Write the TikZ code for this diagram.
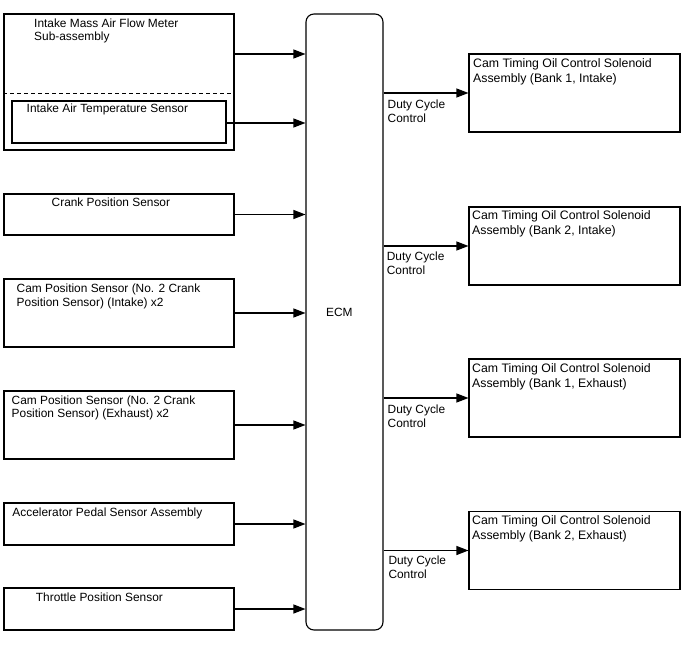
\documentclass[tikz,border=0pt]{standalone}
\usepackage{fontspec}
\setmainfont{Liberation Sans}
\usetikzlibrary{arrows.meta}
\begin{document}
\begin{tikzpicture}[x=1pt,y=-1pt,
  box/.style={draw, line width=1.1pt, inner sep=0pt, minimum width=#1},
  box/.default=230,
  rbox/.style={draw, line width=1.1pt, inner sep=0pt, minimum width=211, minimum height=78},
  txt/.style={anchor=base west, inner sep=0pt, align=left, font=\fontsize{11.9}{13.6}\selectfont},
  rtxt/.style={anchor=base west, inner sep=0pt, align=left, font=\fontsize{12.3}{15}\selectfont},
  arr/.style={line width=1.1pt, -{Triangle[length=12pt,width=9pt]}}]
\useasboundingbox (0,0) rectangle (688,658);
% ECM
\node[draw, line width=1.1pt, rounded corners=8pt, minimum width=77, minimum height=616, inner sep=0pt] (ecm) at (344.5,322) {};
\node[txt] (ecmt) at (326,316) {ECM};
% left boxes
\node[box, minimum height=136] (maf) at (119,82) {};
\draw[line width=1pt, dashed, dash pattern=on 4pt off 3pt] (maf.west |- 0,94) coordinate (dl) -- (maf.east |- 0,94) coordinate (dr);
\node[box=214, minimum height=42] (iat) at (119,122) {};
\node[txt] (maft) at (34,41) {Intake Mass Air Flow Meter\\Sub-assembly};
\node[txt] (iatt) at (26.5,112.7) {Intake Air Temperature Sensor};
\node[box, minimum height=41] (crank) at (119,214.5) {};
\node[txt] (crankt) at (51.5,206.7) {Crank Position Sensor};
\node[box, minimum height=68] (camin) at (119,313) {};
\node[txt] (camint) at (16.5,306) {Cam Position Sensor (No. 2 Crank\\Position Sensor) (Intake) x2};
\node[box, minimum height=68] (camex) at (119,425) {};
\node[txt] (camext) at (11.5,417.7) {Cam Position Sensor (No. 2 Crank\\Position Sensor) (Exhaust) x2};
\node[box, minimum height=42] (accel) at (119,524) {};
\node[txt] (accelt) at (12.3,516.7) {Accelerator Pedal Sensor Assembly};
\node[box, minimum height=42] (thr) at (119,609) {};
\node[txt] (thrt) at (35.7,601.7) {Throttle Position Sensor};
% input arrows
\draw[arr] (maf.east |- 0,54) -- (ecm.west |- 0,54);
\draw[arr] (iat.east |- 0,123) -- (ecm.west |- 0,123);
\draw[arr] (crank.east) -- (ecm.west |- crank.east);
\draw[arr] (camin.east) -- (ecm.west |- camin.east);
\draw[arr] (camex.east) -- (ecm.west |- camex.east);
\draw[arr] (accel.east) -- (ecm.west |- accel.east);
\draw[arr] (thr.east) -- (ecm.west |- thr.east);
% right boxes
\node[rbox] (b1i) at (574.5,93) {};
\node[rtxt] (b1it) at (473,82.7) {Cam Timing Oil Control Solenoid\\Assembly (Bank 1, Intake)};
\node[rbox] (b2i) at (574.5,246) {};
\node[rtxt] (b2it) at (472,234.3) {Cam Timing Oil Control Solenoid\\Assembly (Bank 2, Intake)};
\node[rbox] (b1e) at (574.5,398) {};
\node[rtxt] (b1et) at (472,387.3) {Cam Timing Oil Control Solenoid\\Assembly (Bank 1, Exhaust)};
\node[rbox] (b2e) at (574.5,550.5) {};
\node[rtxt] (b2et) at (472,539) {Cam Timing Oil Control Solenoid\\Assembly (Bank 2, Exhaust)};
% output arrows
\draw[arr] (ecm.east |- b1i.west) -- (b1i.west);
\draw[arr] (ecm.east |- b2i.west) -- (b2i.west);
\draw[arr] (ecm.east |- b1e.west) -- (b1e.west);
\draw[arr] (ecm.east |- b2e.west) -- (b2e.west);
\node[txt] (d1) at (387.5,122.3) {Duty Cycle\\Control};
\node[txt] (d2) at (386.7,274.3) {Duty Cycle\\Control};
\node[txt] (d3) at (387.5,427.3) {Duty Cycle\\Control};
\node[txt] (d4) at (388.3,578.3) {Duty Cycle\\Control};
\end{tikzpicture}
\end{document}
